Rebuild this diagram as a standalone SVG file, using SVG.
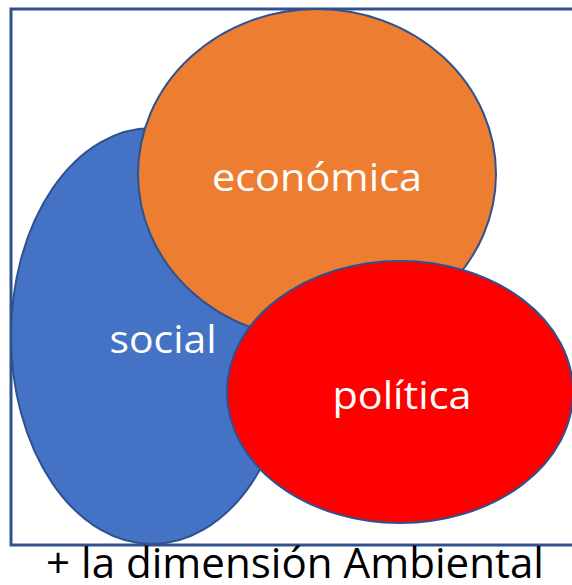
<svg xmlns="http://www.w3.org/2000/svg" width="572" height="585" viewBox="0 0 572 585">
<style>
.sh{stroke:#2F528F;stroke-width:2}
.lbl{font-family:"Open Sans","Liberation Sans",sans-serif;fill:#FFFFFF;font-size:38px;text-anchor:middle}
.cap{font-family:"Open Sans","Liberation Sans",sans-serif;fill:#000000;font-size:42px;text-anchor:middle}
</style>
<rect x="0" y="0" width="572" height="585" fill="#FFFFFF"/>
<rect id="frame" x="11" y="9" width="565" height="536" fill="#FFFFFF" stroke="#2F528F" stroke-width="3"/>
<g id="social">
<ellipse class="sh" cx="152" cy="336" rx="141" ry="208" fill="#4472C4"/>
</g>
<g id="economica">
<ellipse class="sh" cx="317" cy="174" rx="179" ry="165" fill="#ED7D31"/>
</g>
<g id="politica">
<ellipse class="sh" cx="400" cy="392" rx="173" ry="131" fill="#FF0000"/>
</g>
<g id="labels">
<text class="lbl" x="317" y="191" textLength="210" lengthAdjust="spacingAndGlyphs">económica</text>
<text class="lbl" x="163" y="353" textLength="107" lengthAdjust="spacingAndGlyphs">social</text>
<text class="lbl" x="402" y="409" textLength="139" lengthAdjust="spacingAndGlyphs">política</text>
<text class="cap" x="295" y="578" textLength="498" lengthAdjust="spacingAndGlyphs">+ la dimensión Ambiental</text>
</g>
<g id="connectors"/>
</svg>
